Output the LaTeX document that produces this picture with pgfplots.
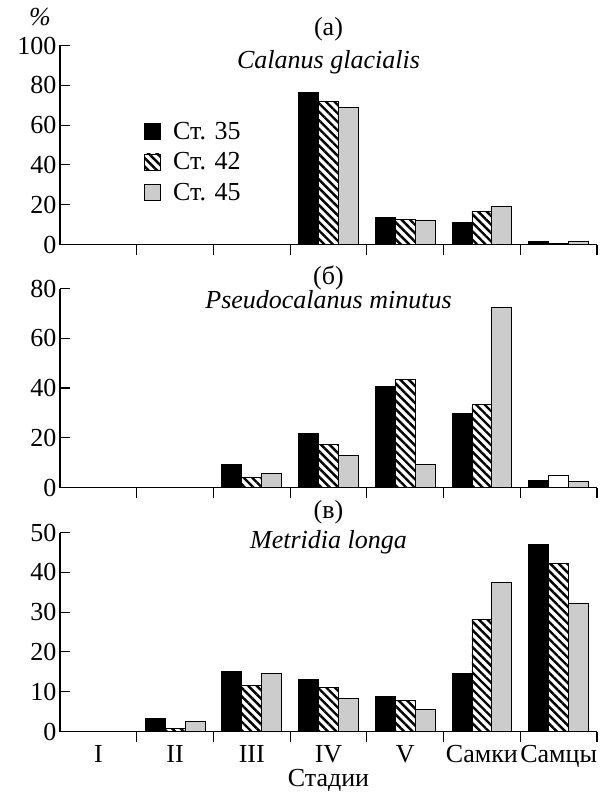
\documentclass[border=0pt]{standalone}
\usepackage{fontspec}
\setmainfont{Liberation Serif}
\usepackage{pgfplots}
\pgfplotsset{compat=1.18}
\usetikzlibrary{patterns.meta}
\definecolor{barGray}{gray}{0.80}
\newcommand{\fs}{\fontsize{26}{30}\selectfont}
\pgfplotsset{
  legsq/.style={legend image code/.code={\draw[##1] (0pt,-8pt) rectangle (16pt,8pt); \path (26pt,0pt);}},
  base/.style={
    scale only axis, width=537pt, height=199pt,
    xmin=-0.5, xmax=6.5, ymin=0,
    axis x line=bottom, axis y line=left,
    axis line style={-, line width=1.1pt},
    tick align=inside, major tick length=10pt,
    every tick/.style={black, line width=1.1pt},
    xtick={0.5,1.5,...,6.5}, xticklabels={},
    ybar, bar width=0.26,
    /pgf/number format/assume math mode=true,
    tick label style={font=\fs},
  },
  sblack/.style={fill=black, draw=black, line width=0.9pt, bar shift=-0.26, legsq},
  shatch/.style={draw=black, line width=0.9pt, bar shift=0, pattern={Lines[angle=-45,distance=6pt,line width=2.4pt]}, pattern color=black, legsq},
  sgray/.style={fill=barGray, draw=black, line width=0.9pt, bar shift=0.26, legsq},
}
\begin{document}
\begin{tikzpicture}[font=\fs]
\useasboundingbox (0,0) rectangle (615pt,-794pt);
% panel a
\begin{axis}[base, at={(60pt,-244.5pt)}, anchor=south west, ymax=100, ytick={0,20,...,100},
  legend style={at={(84pt,82.5pt)}, anchor=west, draw=none, fill=none, inner sep=0pt, row sep=8pt, font=\fs},
  legend cell align=left]
\addplot[sblack] coordinates {(3,76.5) (4,13.8) (5,11) (6,1.5)};
\addlegendentry{Ст. 35}
\addplot[shatch] coordinates {(3,71.8) (4,12.5) (5,16.7) (6,0.7)};
\addlegendentry{Ст. 42}
\addplot[sgray] coordinates {(3,68.8) (4,12) (5,19.2) (6,1.3)};
\addlegendentry{Ст. 45}
\end{axis}
% panel b
\begin{axis}[base, at={(60pt,-487.5pt)}, anchor=south west, ymax=80, ytick={0,20,...,80}]
\addplot[sblack] coordinates {(2,9.2) (3,21.8) (4,40.7) (5,29.8) (6,2.7)};
\addplot[shatch] coordinates {(2,4.2) (3,17.3) (4,43.3) (5,33.5)};
\addplot[fill=white, draw=black, line width=0.9pt, bar shift=0] coordinates {(6,4.7)};
\addplot[sgray] coordinates {(2,5.5) (3,13) (4,9.4) (5,72.5) (6,2.5)};
\end{axis}
% panel c
\begin{axis}[base, at={(60pt,-731.5pt)}, anchor=south west, ymax=50, ytick={0,10,...,50},
  xticklabel style={yshift=-10pt},
  extra x ticks={0,1,2,3,4,5,6},
  extra x tick labels={I,II,III,IV,V,Самки,Самцы},
  extra x tick style={major tick length=0pt}]
\addplot[sblack] coordinates {(1,3.3) (2,15.0) (3,13.1) (4,8.8) (5,14.7) (6,47.1)};
\addplot[shatch] coordinates {(1,0.75) (2,11.5) (3,11.1) (4,7.7) (5,28.2) (6,42.3)};
\addplot[sgray] coordinates {(1,2.5) (2,14.6) (3,8.3) (4,5.6) (5,37.5) (6,32.3)};
\end{axis}
\node at (40pt,-17pt) {\textit{\%}};
\node at (328.5pt,-29pt) {(а)};
\node at (328.5pt,-62pt) {\textit{Calanus glacialis}};
\node at (328.5pt,-278pt) {(б)};
\node at (328.5pt,-300pt) {\textit{Pseudocalanus minutus}};
\node at (328.5pt,-512pt) {(в)};
\node at (328.5pt,-542pt) {\textit{Metridia longa}};
\node at (328.5pt,-780pt) {Стадии};
\end{tikzpicture}
\end{document}
